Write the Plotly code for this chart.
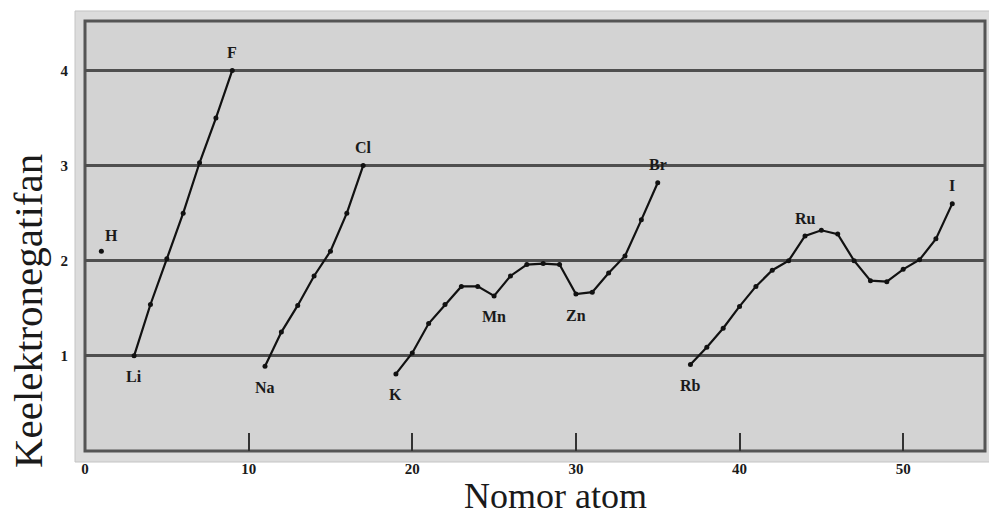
import plotly.graph_objects as go

# ---- data ----
h_z = [1]
h_en = [2.10]
p2_z = [3, 4, 5, 6, 7, 8, 9]
p2_en = [1.00, 1.54, 2.02, 2.50, 3.03, 3.50, 4.00]
p3_z = [11, 12, 13, 14, 15, 16, 17]
p3_en = [0.89, 1.25, 1.53, 1.84, 2.10, 2.50, 3.00]
p4_z = list(range(19, 36))
p4_en = [0.81, 1.03, 1.34, 1.54, 1.73, 1.73, 1.63, 1.84, 1.96, 1.97, 1.96,
         1.65, 1.67, 1.87, 2.05, 2.43, 2.82]
p5_z = list(range(37, 54))
p5_en = [0.91, 1.09, 1.29, 1.52, 1.73, 1.90, 2.00, 2.26, 2.32, 2.28, 2.00,
         1.79, 1.78, 1.91, 2.01, 2.23, 2.60]

label_sym = ["H", "Li", "F", "Na", "Cl", "K", "Mn", "Zn", "Br", "Rb", "Ru", "I"]
label_z = [1, 3, 9, 11, 17, 19, 25, 30, 35, 37, 44, 53]
label_pos = ["ne", "s", "n", "s", "n", "s", "s", "s", "n", "s", "n", "n"]

x_ticks = [0, 10, 20, 30, 40, 50]
y_ticks = [1, 2, 3, 4]

x_title = "Nomor atom"
y_title = "Keelektronegatifan"

# ---- figure ----
fig = go.Figure()
series = [(h_z, h_en), (p2_z, p2_en), (p3_z, p3_en), (p4_z, p4_en), (p5_z, p5_en)]
for zs, ens in series:
    fig.add_trace(go.Scatter(
        x=zs, y=ens, mode="lines+markers",
        line=dict(color="#111111", width=2.2),
        marker=dict(color="#111111", size=5),
        showlegend=False, hoverinfo="x+y"))

all_z = h_z + p2_z + p3_z + p4_z + p5_z
all_en = h_en + p2_en + p3_en + p4_en + p5_en
lookup = dict(zip(all_z, all_en))

label_font = dict(family="Liberation Serif", size=16, color="#1a1a1a", weight="bold")
for sym, z, pos in zip(label_sym, label_z, label_pos):
    if pos == "n":
        xs, ys = 0, 18
    elif pos == "s":
        xs, ys = 0, -21
    else:
        xs, ys = 10, 16
    fig.add_annotation(x=z, y=lookup[z], text=sym, showarrow=False,
                       xshift=xs, yshift=ys, font=label_font,
                       xanchor="center", yanchor="middle")

# axis titles
fig.add_annotation(xref="paper", yref="paper", x=-0.0633, y=0.3256,
                   text=y_title, textangle=-90, showarrow=False,
                   font=dict(family="Liberation Serif", size=41, color="#1a1a1a"),
                   xanchor="center", yanchor="middle")
fig.add_annotation(xref="paper", yref="paper", x=0.523, y=-0.1555,
                   text=x_title, showarrow=False,
                   font=dict(family="Liberation Serif", size=36, color="#1a1a1a"),
                   xanchor="center", yanchor="bottom")

# frame
fig.add_shape(type="rect", xref="paper", yref="paper",
              x0=-0.0111, x1=1.006, y0=-0.0256, y1=1.0233,
              fillcolor="#dcdcdc", line=dict(color="#c4c4c4", width=1), layer="below")
fig.add_shape(type="rect", xref="paper", yref="paper",
              x0=0, x1=1, y0=0, y1=1,
              fillcolor="#d3d3d3", line=dict(color="#555555", width=3), layer="below")

tick_font = dict(family="Liberation Serif", size=15, color="#1a1a1a", weight="bold")
fig.update_xaxes(range=[0, 55], tickvals=x_ticks, ticktext=[str(v) for v in x_ticks],
                 ticks="inside", ticklen=18, tickwidth=2, tickcolor="#333333",
                 ticklabelstandoff=7, showgrid=False, zeroline=False, showline=False,
                 tickfont=tick_font)
fig.update_yaxes(range=[0, 4.52], tickvals=y_ticks, ticktext=[str(v) for v in y_ticks],
                 ticks="", ticklabelstandoff=16, showgrid=True, gridcolor="#4f4f4f",
                 gridwidth=3, zeroline=False, showline=False, tickfont=tick_font)

fig.update_layout(width=989, height=518,
                  margin=dict(l=85, r=4, t=21, b=67),
                  paper_bgcolor="white", plot_bgcolor="rgba(0,0,0,0)",
                  font=dict(family="Liberation Serif"))

fig.write_html("out.html", config={"displayModeBar": False},
               post_script="document.body.style.margin='0';")
